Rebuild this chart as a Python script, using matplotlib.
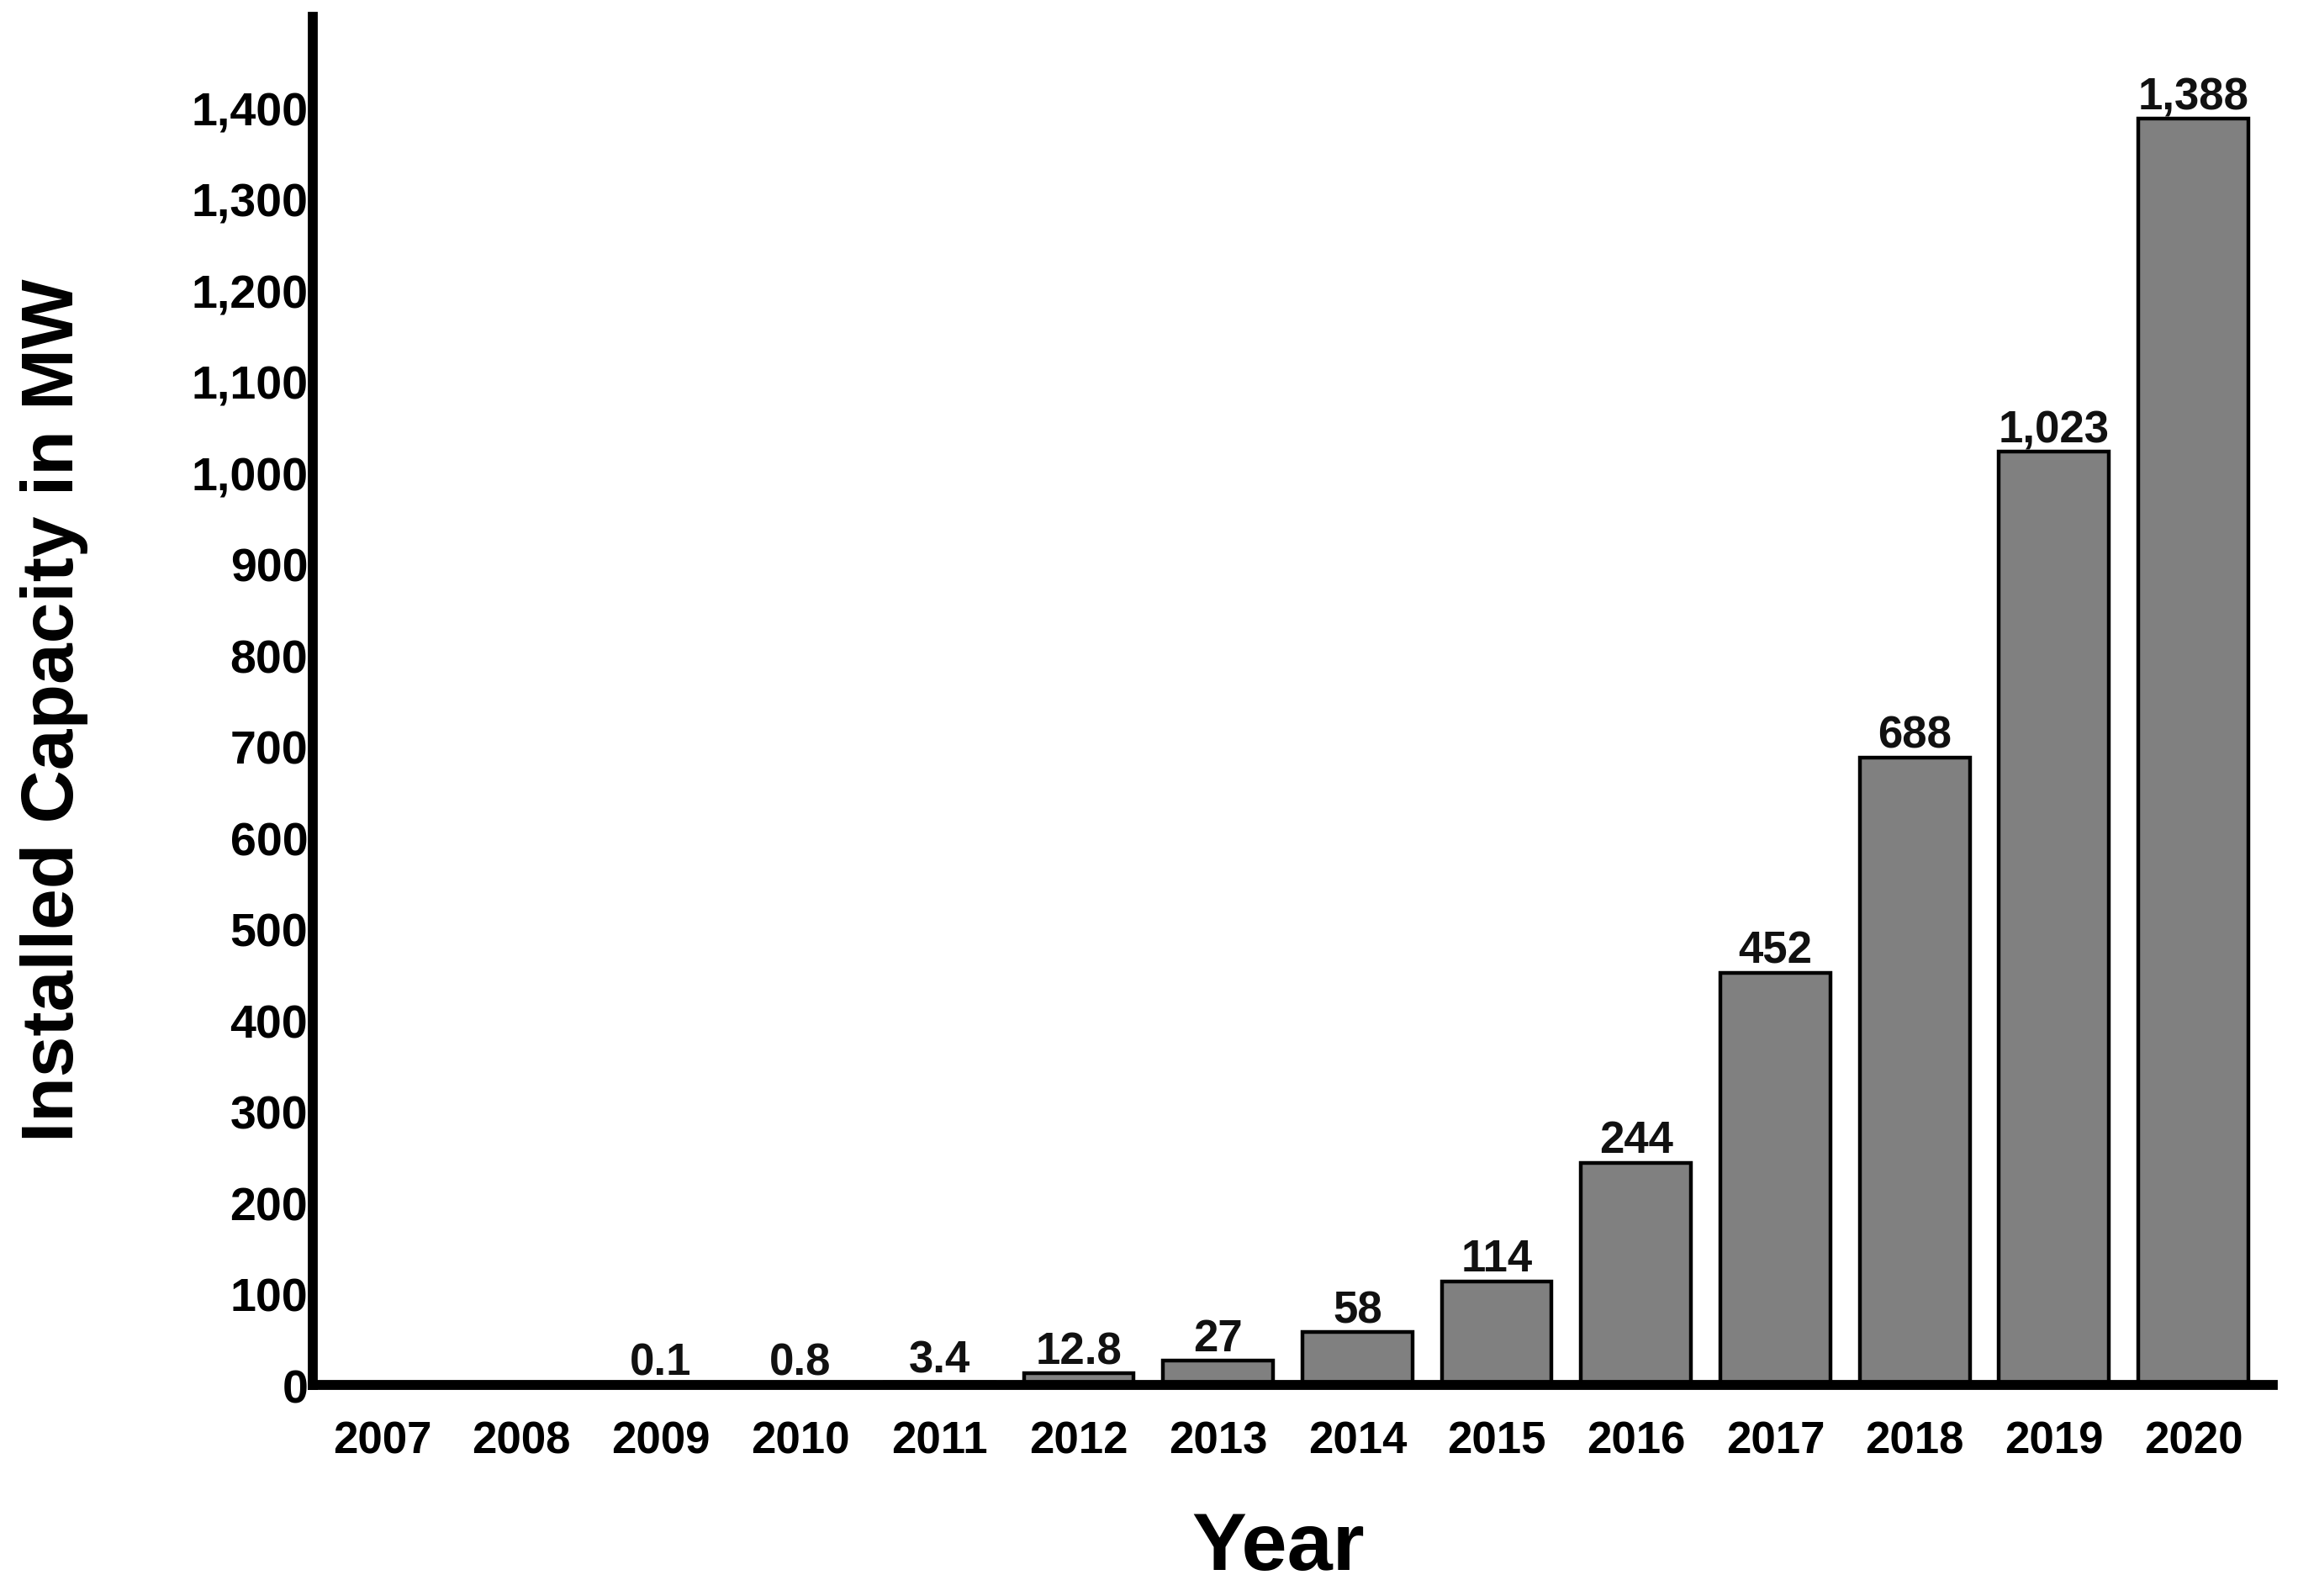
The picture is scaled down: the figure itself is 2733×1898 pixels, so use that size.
import matplotlib
matplotlib.use("Agg")
import matplotlib.pyplot as plt
from matplotlib.ticker import FuncFormatter

# installed capacity per year (MW)
years = ["2007", "2008", "2009", "2010", "2011", "2012", "2013",
         "2014", "2015", "2016", "2017", "2018", "2019", "2020"]
capacity = [0, 0, 0.1, 0.8, 3.4, 12.8, 27, 58, 114, 244, 452, 688, 1023, 1388]
value_labels = ["", "", "0.1", "0.8", "3.4", "12.8", "27", "58", "114",
                "244", "452", "688", "1,023", "1,388"]
yticks = list(range(0, 1401, 100))

plt.rcParams['font.family'] = ['Liberation Sans', 'DejaVu Sans']
plt.rcParams['font.weight'] = 'bold'

fig = plt.figure(figsize=(27.33, 18.99), dpi=100)
ax = fig.add_axes([0.136, 0.132, 0.853, 0.857])

xs = list(range(len(years)))
bars = ax.bar(xs, capacity, width=0.79, color='#808080',
              edgecolor='black', linewidth=3.2, zorder=2)
ax.bar_label(bars, labels=value_labels, padding=1, fontsize=38,
             fontweight='bold', color='#111111')

ax.set_xlim(-0.5, 13.57)
ax.set_ylim(0, 1500)
ax.set_xticks(xs)
ax.set_xticklabels(years)
ax.set_yticks(yticks)
ax.yaxis.set_major_formatter(FuncFormatter(lambda v, p: f"{int(v):,}"))
ax.tick_params(axis='both', length=0)
ax.tick_params(axis='y', pad=4, labelsize=40)
ax.tick_params(axis='x', pad=30, labelsize=38)
for lab in ax.get_xticklabels() + ax.get_yticklabels():
    lab.set_fontweight('bold')

for s in ['top', 'right']:
    ax.spines[s].set_visible(False)
for s in ['left', 'bottom']:
    ax.spines[s].set_linewidth(8.5)
    ax.spines[s].set_zorder(3)

fig.text(65 / 2733, 1 - 845 / 1899, 'Installed Capacity in MW',
         rotation=90, ha='center', va='center', fontsize=63, fontweight='bold')
fig.text(1520 / 2733, 1 - 1842 / 1899, 'Year', ha='center', va='center',
         fontsize=70, fontweight='bold')

fig.savefig('out.png', dpi=100)
